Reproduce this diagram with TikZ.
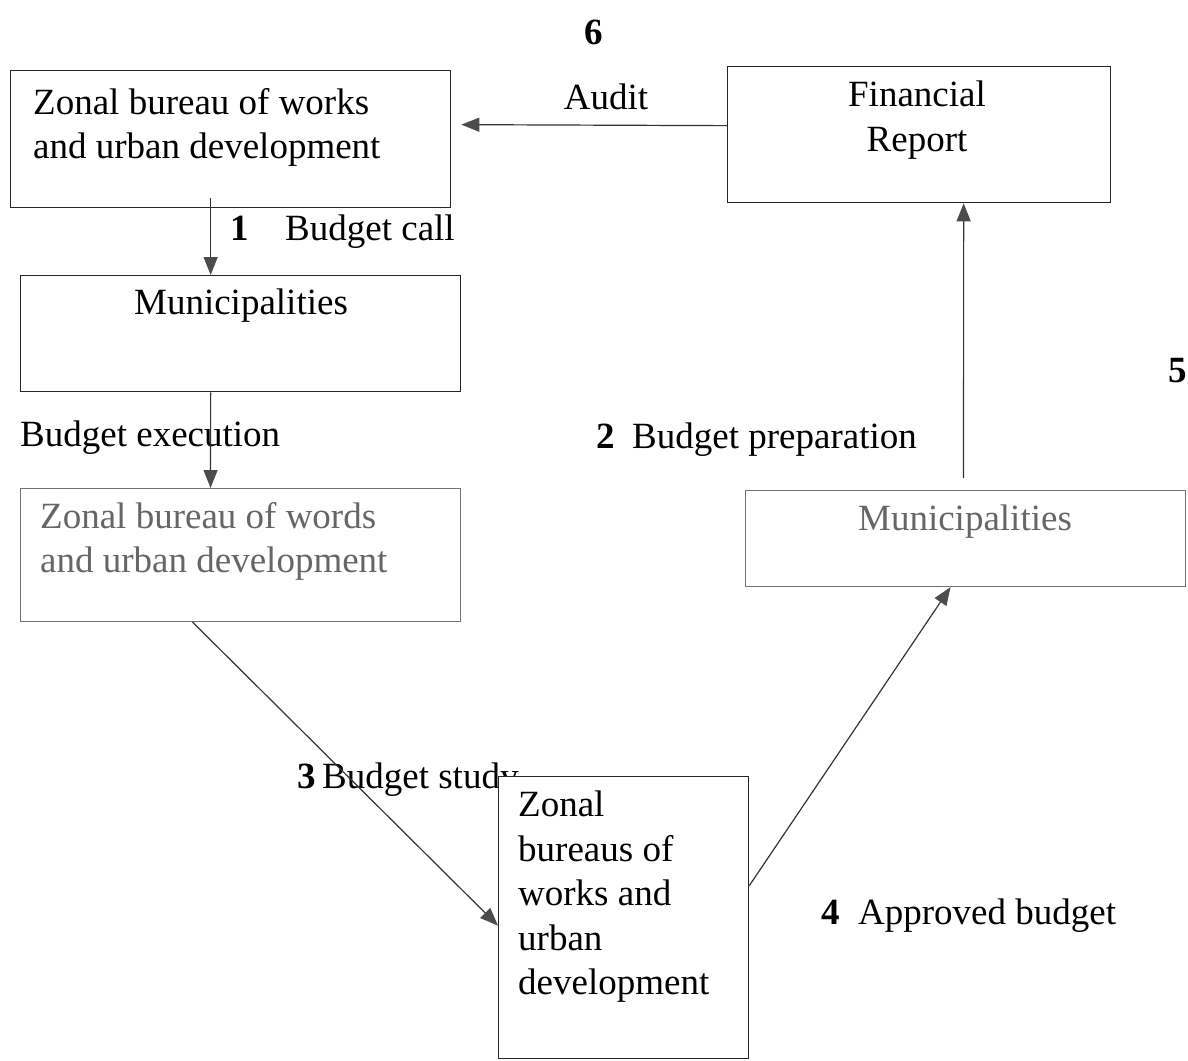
\documentclass[tikz,border=0pt]{standalone}
\usepackage{fontspec}
\setmainfont{Liberation Serif}
\usetikzlibrary{arrows.meta}
\tikzset{
  box/.style={draw=black!85, line width=1.3pt, rectangle, inner sep=0pt, anchor=north west},
  palebox/.style={box, draw=black!55, line width=1.1pt},
  boxtext/.style={inner sep=0pt, align=left, anchor=north west},
  lbl/.style={inner sep=0pt, anchor=base west},
  flow/.style={draw=black!80, line width=1.2pt, -{Triangle[length=18pt,width=14pt,color=black!70]}}
}
\begin{document}
\begin{tikzpicture}[x=1pt, y=-1pt, font=\fontsize{37}{44.5}\selectfont]
  \useasboundingbox (0,0) rectangle (1188,1060);
  % step labels
  \node[inner sep=0pt, anchor=base] (sixNum) at (594,44) {\textbf{6}};
  \node[inner sep=0pt, anchor=base] (auditLbl) at (606,109) {Audit};
  \node[lbl] (callNum) at (230,240) {\textbf{1}};
  \node[lbl] (callLbl) at (285,240) {Budget call};
  \node[lbl] (execLbl) at (20,446) {Budget execution};
  \node[lbl] (prepNum) at (596,448) {\textbf{2}};
  \node[lbl] (prepLbl) at (632,448) {Budget preparation};
  \node[lbl] (studyNum) at (297,788) {\textbf{3}};
  \node[lbl] (studyLbl) at (322,788) {Budget study};
  \node[lbl] (apprNum) at (821,924) {\textbf{4}};
  \node[lbl] (apprLbl) at (858,924) {Approved budget};
  \node[lbl] (fiveNum) at (1168,382) {\textbf{5}};
  % boxes
  \node[box, minimum width=440pt, minimum height=137pt] (zonalA) at (10,70) {};
  \node[boxtext] (zonalAtxt) at (33,88) {Zonal bureau of works\\and urban development};
  \node[box, minimum width=383pt, minimum height=136pt] (finRep) at (727,66) {};
  \node[boxtext, align=center, anchor=north] (finRepTxt) at (917,81) {Financial\\Report};
  \node[box, minimum width=440pt, minimum height=116pt] (mun1) at (20,275) {};
  \node[inner sep=0pt, anchor=base] (mun1Txt) at (241,314) {Municipalities};
  \node[palebox, minimum width=440pt, minimum height=133pt] (zonalW) at (20,488) {};
  \node[boxtext, text=black!60] (zonalWtxt) at (40,502) {Zonal bureau of words\\and urban development};
  \node[palebox, minimum width=440pt, minimum height=96pt] (mun2) at (745,490) {};
  \node[inner sep=0pt, anchor=base, text=black!60] (mun2Txt) at (965,530) {Municipalities};
  % covers the end of "Budget study"
  \node[box, fill=white, minimum width=250pt, minimum height=282pt] (bureaus) at (498,776) {};
  \node[boxtext] (bureausTxt) at (518,791) {Zonal\\bureaus of\\works and\\urban\\development};
  % connectors
  \draw[flow] ([yshift=9pt]finRep.west) -- ([xshift=10pt,yshift=14.5pt]zonalA.east);
  \draw[flow] ([xshift=-20pt,yshift=10pt]zonalA.south) -- ([xshift=-30pt]mun1.north);
  \draw[flow] ([xshift=-30pt]mun1.south) -- ([xshift=-30pt]zonalW.north);
  \draw[flow] ([xshift=-48pt]zonalW.south) -- ([yshift=-8pt]bureaus.west);
  \draw[flow] ([yshift=32pt]bureaus.east) -- ([xshift=-15pt]mun2.south);
  \draw[flow] ([xshift=-2pt,yshift=12pt]mun2.north) -- ([xshift=44.5pt]finRep.south);
\end{tikzpicture}
\end{document}
